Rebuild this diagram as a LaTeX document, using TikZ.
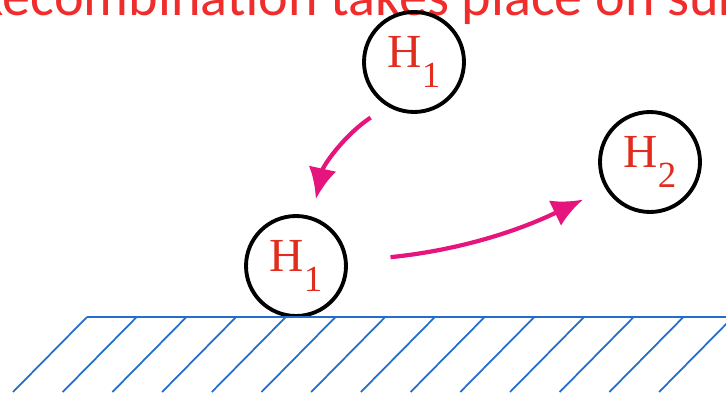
\documentclass[tikz,border=0pt]{standalone}
\usepackage{fontspec}
\setmainfont{Liberation Serif}
\newfontfamily\capfont{Carlito}
\usetikzlibrary{arrows.meta}

\definecolor{capred}{RGB}{240,45,45}
\definecolor{hred}{RGB}{225,45,30}
\definecolor{hoppink}{RGB}{230,20,125}
\definecolor{surfblue}{RGB}{35,110,205}

\newcommand{\Hsub}[1]{H\raisebox{-0.42em}{\fontsize{21}{21}\selectfont #1}}

\begin{document}
\begin{tikzpicture}[x=0.02cm, y=-0.02cm, atom/.style={circle, draw, line width=2.2pt, minimum size=2cm, inner sep=0pt, text=hred, font=\fontsize{27}{27}\selectfont}, hop/.style={draw=hoppink, line width=2.4pt, -{Latex[length=0.62cm, width=0.56cm]}}, surf/.style={draw=surfblue, line width=1.2pt}, hatch/.style={draw=surfblue, line width=1pt}]
\useasboundingbox (0,0) rectangle (726,395);
\clip (0,0) rectangle (726,395);
\node[anchor=base west, inner sep=0pt, text=capred, font=\capfont\fontsize{32}{32}\selectfont] (caption) at (-27,16) {Recombination takes place on surface};
\node[atom] (h1top) at (414,62) {\Hsub{1}};
\node[atom] (h1low) at (296,266) {\Hsub{1}};
\node[atom] (h2) at (650,162) {\Hsub{2}};
% surface
\draw[surf] (87,317) -- (726,317);
\foreach \k in {0,...,13}
  \draw[hatch] ({87+49.7*\k},317) -- ++(-74,75);
% hops
\draw[hop, shorten <=0.4cm, shorten >=0.36cm] (h1top.239) to[bend right=22] (h1low.72);
\draw[hop, shorten <=0.86cm, shorten >=0.5cm] (h1low.5) to[bend right=10] (h2.211);
\end{tikzpicture}
\end{document}
